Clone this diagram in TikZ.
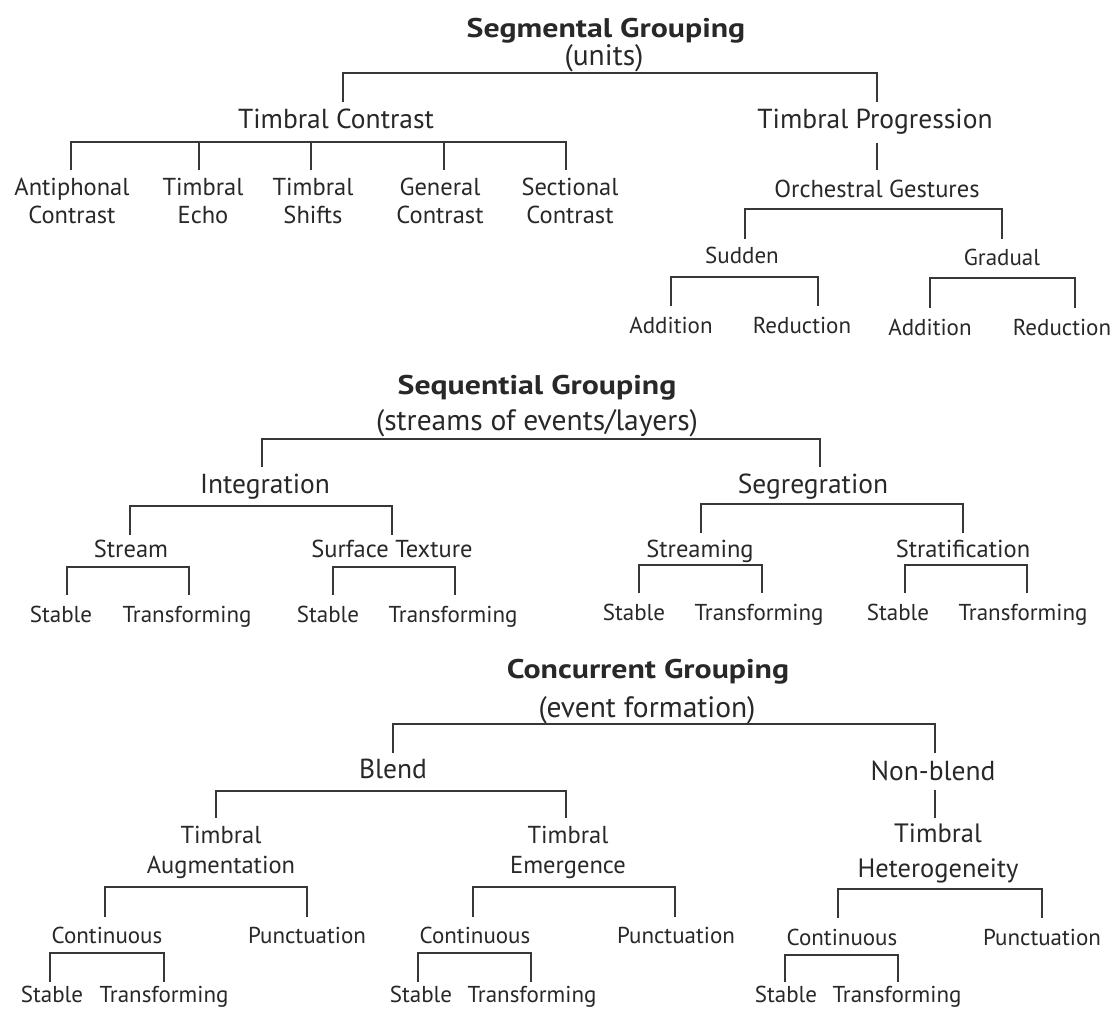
\documentclass[tikz,border=0pt]{standalone}
\usepackage{fontspec}
\setmainfont{PT Sans}
\newfontfamily\ttlfont{PT Sans}[FakeStretch=1.18]
\usetikzlibrary{calc}
\definecolor{ink}{RGB}{40,40,40}
\definecolor{wirec}{RGB}{55,55,55}
\newcommand{\twolines}[2]{\begin{tabular}[t]{@{}c@{}}#1\\#2\end{tabular}}
\tikzset{
  lab/.style={anchor=base, inner sep=0pt, text=ink},
  ttl/.style={lab, font=\fontsize{27}{30}\selectfont\ttlfont\bfseries},
  subttl/.style={lab, font=\fontsize{29.5}{32}\selectfont},
  lone/.style={lab, font=\fontsize{27.5}{30}\selectfont},
  ltwo/.style={lab, font=\fontsize{24.5}{28}\selectfont},
  lthree/.style={lab, font=\fontsize{23}{27}\selectfont},
  wire/.style={draw=wirec, line width=1.8pt},
}
\begin{document}
\begin{tikzpicture}[x=1pt, y=-1pt]
\fill[white] (0,0) rectangle (1116,1009);
\useasboundingbox (0,0) rectangle (1116,1009);

% ---------------- Segmental grouping
\node[ttl] (seg) at (606,37) {Segmental Grouping};
\node[subttl] (segsub) at (604,65) {(units)};
\node[lone] (tc) at (336,128) {Timbral Contrast};
\node[lone] (tp) at (875,128) {Timbral Progression};
\node[ltwo] (ant) at (72,195) {\twolines{Antiphonal}{Contrast}};
\node[ltwo] (echo) at (203,195) {\twolines{Timbral}{Echo}};
\node[ltwo] (shift) at (313,195) {\twolines{Timbral}{Shifts}};
\node[ltwo] (gen) at (440,195) {\twolines{General}{Contrast}};
\node[ltwo] (sect) at (570,195) {\twolines{Sectional}{Contrast}};
\node[ltwo] (og) at (877,197) {Orchestral Gestures};
\node[lthree] (sud) at (742,263) {Sudden};
\node[lthree] (grad) at (1002,265) {Gradual};
\node[lthree] (sadd) at (671,333) {Addition};
\node[lthree] (sred) at (802,333) {Reduction};
\node[lthree] (gadd) at (930,335) {Addition};
\node[lthree] (gred) at (1062,335) {Reduction};

\coordinate (b0) at (600,73);
\coordinate (tcT) at ($(tc.base)+(7,-26)$);
\coordinate (tpT) at ($(tp.base)+(2,-26)$);
\draw[wire] (tcT) |- (b0) -| (tpT);

\coordinate (b1) at (300,142);
\coordinate (antT) at ($(ant.base)+(-1,-25)$);
\coordinate (echoT) at ($(echo.base)+(-4,-25)$);
\coordinate (shiftT) at ($(shift.base)+(-2,-25)$);
\coordinate (genT) at ($(gen.base)+(4,-25)$);
\coordinate (sectT) at ($(sect.base)+(-4,-25)$);
\draw[wire] (antT) |- (b1) -| (sectT);
\draw[wire] (echoT) -- (echoT |- b1);
\draw[wire] (shiftT) -- (shiftT |- b1);
\draw[wire] (genT) -- (genT |- b1);

\coordinate (tpB) at ($(tp.base)+(2,15)$);
\coordinate (ogT) at ($(og.base)+(0,-27)$);
\draw[wire] (tpB) -- (ogT);

\coordinate (b2) at (877,209);
\coordinate (sudT) at ($(sud.base)+(3,-24)$);
\coordinate (gradT) at ($(grad.base)+(0,-26)$);
\draw[wire] (sudT) |- (b2) -| (gradT);

\coordinate (b3) at (742,277);
\coordinate (saddT) at ($(sadd.base)+(0,-27)$);
\coordinate (sredT) at ($(sred.base)+(16,-27)$);
\draw[wire] (saddT) |- (b3) -| (sredT);

\coordinate (b4) at (1002,278);
\coordinate (gaddT) at ($(gadd.base)+(0,-27)$);
\coordinate (gredT) at ($(gred.base)+(13,-27)$);
\draw[wire] (gaddT) |- (b4) -| (gredT);

% ---------------- Sequential grouping
\node[ttl] (seq) at (537,394) {Sequential Grouping};
\node[subttl] (seqsub) at (537,430) {(streams of events/layers)};
\node[lone] (integ) at (265,493) {Integration};
\node[lone] (segr) at (813,493) {Segregration};
\node[ltwo] (stream) at (131,557) {Stream};
\node[ltwo] (surf) at (392,557) {Surface Texture};
\node[ltwo] (strmg) at (700,557) {Streaming};
\node[ltwo] (strat) at (963,557) {Stratification};
\node[lthree] (st1) at (61,622) {Stable};
\node[lthree] (tr1) at (187,622) {Transforming};
\node[lthree] (st2) at (328,622) {Stable};
\node[lthree] (tr2) at (453,622) {Transforming};
\node[lthree] (st3) at (634,620) {Stable};
\node[lthree] (tr3) at (759,620) {Transforming};
\node[lthree] (st4) at (898,620) {Stable};
\node[lthree] (tr4) at (1023,620) {Transforming};

\coordinate (c0) at (537,439);
\coordinate (integT) at ($(integ.base)+(-3,-26)$);
\coordinate (segrT) at ($(segr.base)+(7,-26)$);
\draw[wire] (integT) |- (c0) -| (segrT);

\coordinate (c1) at (265,506);
\coordinate (streamT) at ($(stream.base)+(-1,-22)$);
\coordinate (surfT) at ($(surf.base)+(0,-22)$);
\draw[wire] (streamT) |- (c1) -| (surfT);

\coordinate (c2) at (131,567);
\coordinate (st1T) at ($(st1.base)+(6,-27)$);
\coordinate (tr1T) at ($(tr1.base)+(2,-27)$);
\draw[wire] (st1T) |- (c2) -| (tr1T);

\coordinate (c3) at (392,567);
\coordinate (st2T) at ($(st2.base)+(5,-27)$);
\coordinate (tr2T) at ($(tr2.base)+(2,-27)$);
\draw[wire] (st2T) |- (c3) -| (tr2T);

\coordinate (c4) at (813,504);
\coordinate (strmgT) at ($(strmg.base)+(1,-24)$);
\coordinate (stratT) at ($(strat.base)+(0,-24)$);
\draw[wire] (strmgT) |- (c4) -| (stratT);

\coordinate (c5) at (700,565);
\coordinate (st3T) at ($(st3.base)+(5,-27)$);
\coordinate (tr3T) at ($(tr3.base)+(3,-27)$);
\draw[wire] (st3T) |- (c5) -| (tr3T);

\coordinate (c6) at (963,565);
\coordinate (st4T) at ($(st4.base)+(7,-27)$);
\coordinate (tr4T) at ($(tr4.base)+(4,-27)$);
\draw[wire] (st4T) |- (c6) -| (tr4T);

% ---------------- Concurrent grouping
\node[ttl] (conc) at (648,678) {Concurrent Grouping};
\node[subttl] (concsub) at (647,717) {(event formation)};
\node[lone] (blend) at (393,778) {Blend};
\node[lone] (nonb) at (933,780) {Non-blend};
\node[ltwo, font=\fontsize{24.5}{30}\selectfont] (aug) at (221,843) {\twolines{Timbral}{Augmentation}};
\node[ltwo, font=\fontsize{24.5}{30}\selectfont] (emer) at (568,843) {\twolines{Timbral}{Emergence}};
\node[ltwo, font=\fontsize{26.5}{35}\selectfont] (het) at (938,842) {\twolines{Timbral}{Heterogeneity}};
\node[lthree] (cA) at (107,943) {Continuous};
\node[lthree] (pA) at (307,943) {Punctuation};
\node[lthree] (cB) at (475,943) {Continuous};
\node[lthree] (pB) at (676,943) {Punctuation};
\node[lthree] (cC) at (842,945) {Continuous};
\node[lthree] (pC) at (1042,945) {Punctuation};
\node[lthree] (s5) at (52,1002) {Stable};
\node[lthree] (t5) at (164,1002) {Transforming};
\node[lthree] (s6) at (421,1002) {Stable};
\node[lthree] (t6) at (532,1002) {Transforming};
\node[lthree] (s7) at (786,1002) {Stable};
\node[lthree] (t7) at (897,1002) {Transforming};

\coordinate (d0) at (647,724);
\coordinate (blendT) at ($(blend.base)+(0,-25)$);
\coordinate (nonbT) at ($(nonb.base)+(2,-27)$);
\draw[wire] (blendT) |- (d0) -| (nonbT);

\coordinate (d1) at (393,791);
\coordinate (augT) at ($(aug.base)+(-5,-25)$);
\coordinate (emerT) at ($(emer.base)+(-2,-25)$);
\draw[wire] (augT) |- (d1) -| (emerT);

\coordinate (nonbB) at ($(nonb.base)+(2,10)$);
\coordinate (hetT) at ($(het.base)+(-3,-24)$);
\draw[wire] (nonbB) -- (hetT);

\coordinate (d2) at (221,887);
\coordinate (cAT) at ($(cA.base)+(-2,-26)$);
\coordinate (pAT) at ($(pA.base)+(0,-26)$);
\draw[wire] (cAT) |- (d2) -| (pAT);

\coordinate (d3) at (570,887);
\coordinate (cBT) at ($(cB.base)+(-2,-26)$);
\coordinate (pBT) at ($(pB.base)+(-1,-26)$);
\draw[wire] (cBT) |- (d3) -| (pBT);

\coordinate (d4) at (937,889);
\coordinate (cCT) at ($(cC.base)+(-4,-27)$);
\coordinate (pCT) at ($(pC.base)+(0,-27)$);
\draw[wire] (cCT) |- (d4) -| (pCT);

\coordinate (d5) at (107,953);
\coordinate (s5T) at ($(s5.base)+(-2,-20)$);
\coordinate (t5T) at ($(t5.base)+(0,-20)$);
\draw[wire] (s5T) |- (d5) -| (t5T);

\coordinate (d6) at (475,953);
\coordinate (s6T) at ($(s6.base)+(-3,-20)$);
\coordinate (t6T) at ($(t6.base)+(-1,-20)$);
\draw[wire] (s6T) |- (d6) -| (t6T);

\coordinate (d7) at (842,955);
\coordinate (s7T) at ($(s7.base)+(-1,-20)$);
\coordinate (t7T) at ($(t7.base)+(1,-20)$);
\draw[wire] (s7T) |- (d7) -| (t7T);
\end{tikzpicture}
\end{document}
